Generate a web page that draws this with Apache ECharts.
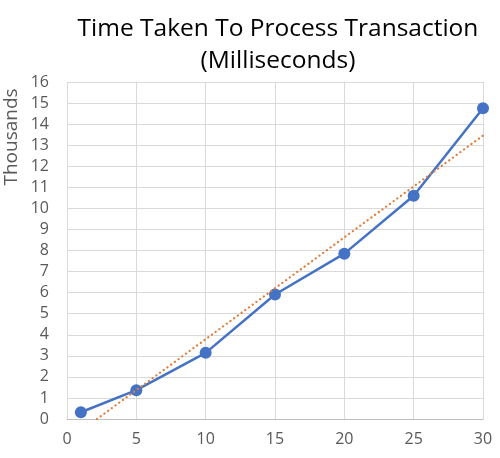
<!DOCTYPE html>
<html>
<head>
<meta charset="utf-8">
<script src="https://cdn.jsdelivr.net/npm/echarts@6/dist/echarts.min.js"></script>
<style>
  html, body { margin: 0; padding: 0; background: #fff; }
  #main { width: 500px; height: 458px; }
</style>
</head>
<body>
<div id="main"></div>
<script>
// values (y in thousands of ms)
var xValues = [1, 5, 10, 15, 20, 25, 30];
var yValues = [0.32, 1.37, 3.14, 5.91, 7.85, 10.6, 14.75];
// dotted trend line, two end points
var trendX = [2.16, 30];
var trendY = [0, 13.46];

var dom = document.getElementById('main');
var myChart = echarts.init(dom, null, { renderer: 'canvas' });

var points = xValues.map(function (x, i) { return [x, yValues[i]]; });
var trend = trendX.map(function (x, i) { return [x, trendY[i]]; });

var option = {
    animation: false,
    title: {
        text: 'Time Taken To Process Transaction\n(Milliseconds)',
        left: 273,
        top: 8,
        textAlign: 'center',
        textStyle: {
            fontFamily: 'Open Sans',
            fontSize: 24.5,
            fontWeight: 'normal',
            color: '#000',
            lineHeight: 32
        }
    },
    graphic: [{
        type: 'text',
        x: 12,
        y: 137,
        rotation: Math.PI / 2,
        style: {
            text: 'Thousands',
            fontFamily: 'Open Sans',
            fontSize: 19,
            fill: '#595959',
            align: 'center',
            verticalAlign: 'middle'
        }
    }],
    grid: { left: 67, right: 17, top: 82, bottom: 39 },
    xAxis: {
        type: 'value',
        min: 0,
        max: 30,
        interval: 5,
        axisLine: { show: true, lineStyle: { color: '#bfbfbf', width: 1 } },
        axisTick: { show: false },
        axisLabel: { color: '#595959', fontSize: 16, fontFamily: 'Open Sans', margin: 12 },
        splitLine: { show: true, lineStyle: { color: '#d9d9d9', width: 1 } }
    },
    yAxis: {
        type: 'value',
        min: 0,
        max: 16,
        interval: 1,
        axisLine: { show: false },
        axisTick: { show: false },
        axisLabel: { color: '#595959', fontSize: 16, fontFamily: 'Open Sans', margin: 18 },
        splitLine: { show: true, lineStyle: { color: '#d9d9d9', width: 1 } }
    },
    series: [
        {
            name: 'Trend',
            type: 'line',
            data: trend,
            symbol: 'none',
            lineStyle: { color: '#E07B39', width: 2.2, type: [0.1, 4.5], cap: 'round' },
            z: 3
        },
        {
            name: 'Time',
            type: 'line',
            data: points,
            symbol: 'circle',
            symbolSize: 12,
            itemStyle: { color: '#4472C4' },
            lineStyle: { color: '#4472C4', width: 2.5 },
            z: 2
        }
    ]
};

if (option && typeof option === 'object') {
    myChart.setOption(option);
}
window.addEventListener('resize', myChart.resize);
</script>
</body>
</html>
